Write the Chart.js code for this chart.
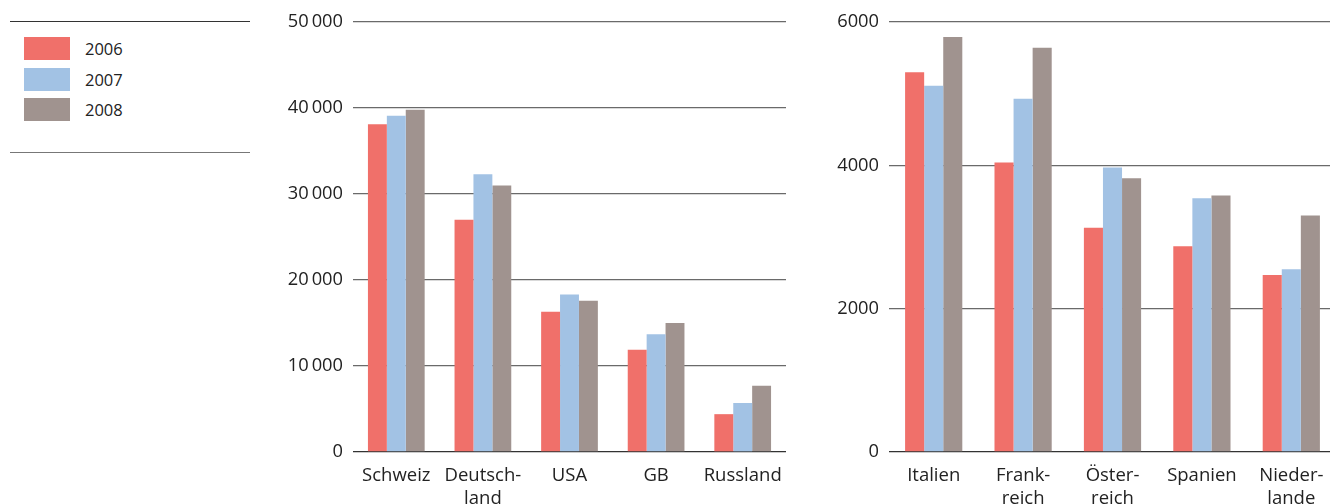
<!DOCTYPE html>
<html>
<head>
<meta charset="utf-8">
<script src="https://cdn.jsdelivr.net/npm/chart.js@4/dist/chart.umd.min.js"></script>
<style>
    html, body { margin: 0; padding: 0; background: #fff; overflow: hidden; }
    body { width: 1330px; height: 504px; position: relative; font-family: 'Open Sans', sans-serif; color: #222; }
    #legend { position: absolute; left: 10px; top: 21px; width: 240px; height: 130px;
        border-top: 1.5px solid #333; border-bottom: 1.5px solid #777; }
    .legend-item { position: absolute; left: 14px; height: 23px; font-size: 16.5px; line-height: 23px; }
    .legend-item span { display: inline-block; width: 46px; height: 23px; vertical-align: top; margin-right: 15px; }
    #left-wrap { position: absolute; left: 273px; top: 0; width: 517px; height: 504px; }
    #right-wrap { position: absolute; left: 820px; top: 0; width: 520px; height: 504px; }
</style>
</head>
<body>
<div id="legend"></div>
<div id="left-wrap"><canvas id="left-chart"></canvas></div>
<div id="right-wrap"><canvas id="right-chart"></canvas></div>

<script>
const years = ['2006', '2007', '2008'];
const colors = ['#F0706A', '#A2C2E4', '#A0938F'];

// Left chart (large markets)
const leftCategories = ['Schweiz', ['Deutsch-', 'land'], 'USA', 'GB', 'Russland'];
const left2006 = [38100, 27000, 16300, 11900, 4400];
const left2007 = [39100, 32300, 18300, 13700, 5700];
const left2008 = [39800, 31000, 17600, 15000, 7700];
const leftMax = 50000;
const leftStep = 10000;

// Right chart (smaller markets)
const rightCategories = ['Italien', ['Frank-', 'reich'], ['Öster-', 'reich'], 'Spanien', ['Nieder-', 'lande']];
const right2006 = [5300, 4040, 3130, 2870, 2470];
const right2007 = [5110, 4930, 3970, 3540, 2550];
const right2008 = [5790, 5640, 3820, 3580, 3300];
const rightMax = 6000;
const rightStep = 2000;

document.addEventListener('DOMContentLoaded', () => {
    buildLegend();
    makeChart('left-chart', leftCategories, [left2006, left2007, left2008], leftMax, leftStep, 80, 0.655);
    makeChart('right-chart', rightCategories, [right2006, right2007, right2008], rightMax, rightStep, 69, 0.64);
});

function buildLegend() {
    const legend = document.getElementById('legend');
    years.forEach((year, i) => {
        const item = document.createElement('div');
        item.className = 'legend-item';
        item.style.top = (15 + i * 30.5) + 'px';
        item.innerHTML = `<span style="background:${colors[i]}"></span>${year}`;
        legend.appendChild(item);
    });
}

function formatTick(value) {
    // thin space as thousands separator for 5-digit numbers
    if (value >= 10000) {
        const s = String(value);
        return s.slice(0, s.length - 3) + '\u2009' + s.slice(-3);
    }
    return String(value);
}

function makeChart(id, categories, series, max, step, axisWidth, catPct) {
    const ctx = document.getElementById(id).getContext('2d');

    return new Chart(ctx, {
        type: 'bar',
        data: {
            labels: categories,
            datasets: series.map((data, i) => ({
                label: years[i],
                data: data,
                backgroundColor: colors[i],
                borderWidth: 0,
                barPercentage: 1.0,
                categoryPercentage: catPct
            }))
        },
        options: {
            responsive: true,
            maintainAspectRatio: false,
            animation: false,
            layout: {
                padding: { top: 22, right: 4, bottom: 0, left: 0 }
            },
            plugins: {
                legend: { display: false },
                tooltip: { enabled: false }
            },
            scales: {
                x: {
                    grid: { display: false },
                    border: { display: false },
                    ticks: {
                        color: '#222',
                        padding: 5,
                        maxRotation: 0,
                        autoSkip: false,
                        font: { family: "'Open Sans', sans-serif", size: 18.5, lineHeight: 1.2 }
                    },
                    afterFit: (scale) => { scale.height = 52; }
                },
                y: {
                    min: 0,
                    max: max,
                    border: { display: false },
                    grid: {
                        drawTicks: false,
                        lineWidth: 1.3,
                        color: (c) => c.tick && c.tick.value === 0 ? '#333' : '#6a6a6a'
                    },
                    ticks: {
                        stepSize: step,
                        padding: 10,
                        color: '#222',
                        font: { family: "'Open Sans', sans-serif", size: 18.3 },
                        callback: formatTick
                    },
                    afterFit: (scale) => { scale.width = axisWidth; }
                }
            }
        }
    });
}
</script>
</body>
</html>
